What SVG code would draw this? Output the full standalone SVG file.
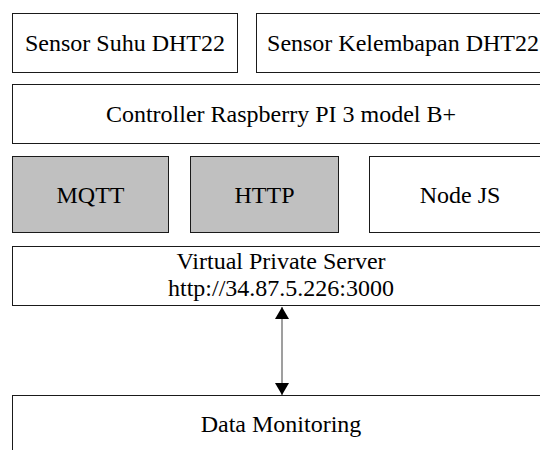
<svg xmlns="http://www.w3.org/2000/svg" width="540" height="450" viewBox="0 0 540 450">
<style>
.box{fill:#ffffff;stroke:#1a1a1a;stroke-width:1}
.grey{fill:#c0c0c0;stroke:#1a1a1a;stroke-width:1}
.t{font-family:"Liberation Serif","Times New Roman",serif;font-size:24px;fill:#000;text-anchor:middle}
.conn{stroke:#7f7f7f;stroke-width:1.5;fill:none}
</style>
<defs>
<marker id="ah" viewBox="0 0 12 14" refX="12" refY="7" markerWidth="12" markerHeight="14" markerUnits="userSpaceOnUse" orient="auto-start-reverse">
<path d="M0,0 L12,7 L0,14 Z" fill="#000"/>
</marker>
</defs>
<rect width="540" height="450" fill="#ffffff"/>
<g id="sensor-suhu"><rect class="box" x="12.5" y="13.5" width="225" height="59"/><text class="t" x="125" y="51">Sensor Suhu DHT22</text></g>
<g id="sensor-kelembapan"><rect class="box" x="256.5" y="13.5" width="295" height="59"/><text class="t" x="403" y="51">Sensor Kelembapan DHT22</text></g>
<g id="controller"><rect class="box" x="12.5" y="84.5" width="539" height="59"/><text class="t" x="281" y="122">Controller Raspberry PI 3 model B+</text></g>
<g id="mqtt"><rect class="grey" x="12.5" y="156.5" width="156" height="76"/><text class="t" x="90.5" y="203">MQTT</text></g>
<g id="http"><rect class="grey" x="190.5" y="156.5" width="148" height="76"/><text class="t" x="264.5" y="203">HTTP</text></g>
<g id="nodejs"><rect class="box" x="369.5" y="156.5" width="182" height="76"/><text class="t" x="460" y="203">Node JS</text></g>
<g id="vps"><rect class="box" x="12.5" y="246.5" width="539" height="59"/><text class="t" x="281" y="269">Virtual Private Server</text><text class="t" x="281" y="296">http://34.87.5.226:3000</text></g>
<g id="data-monitoring"><rect class="box" x="12.5" y="395.5" width="539" height="70"/><text class="t" x="281" y="432">Data Monitoring</text></g>
<g id="connectors"><line class="conn" x1="282" y1="307" x2="282" y2="395" marker-start="url(#ah)" marker-end="url(#ah)"/></g>
</svg>
